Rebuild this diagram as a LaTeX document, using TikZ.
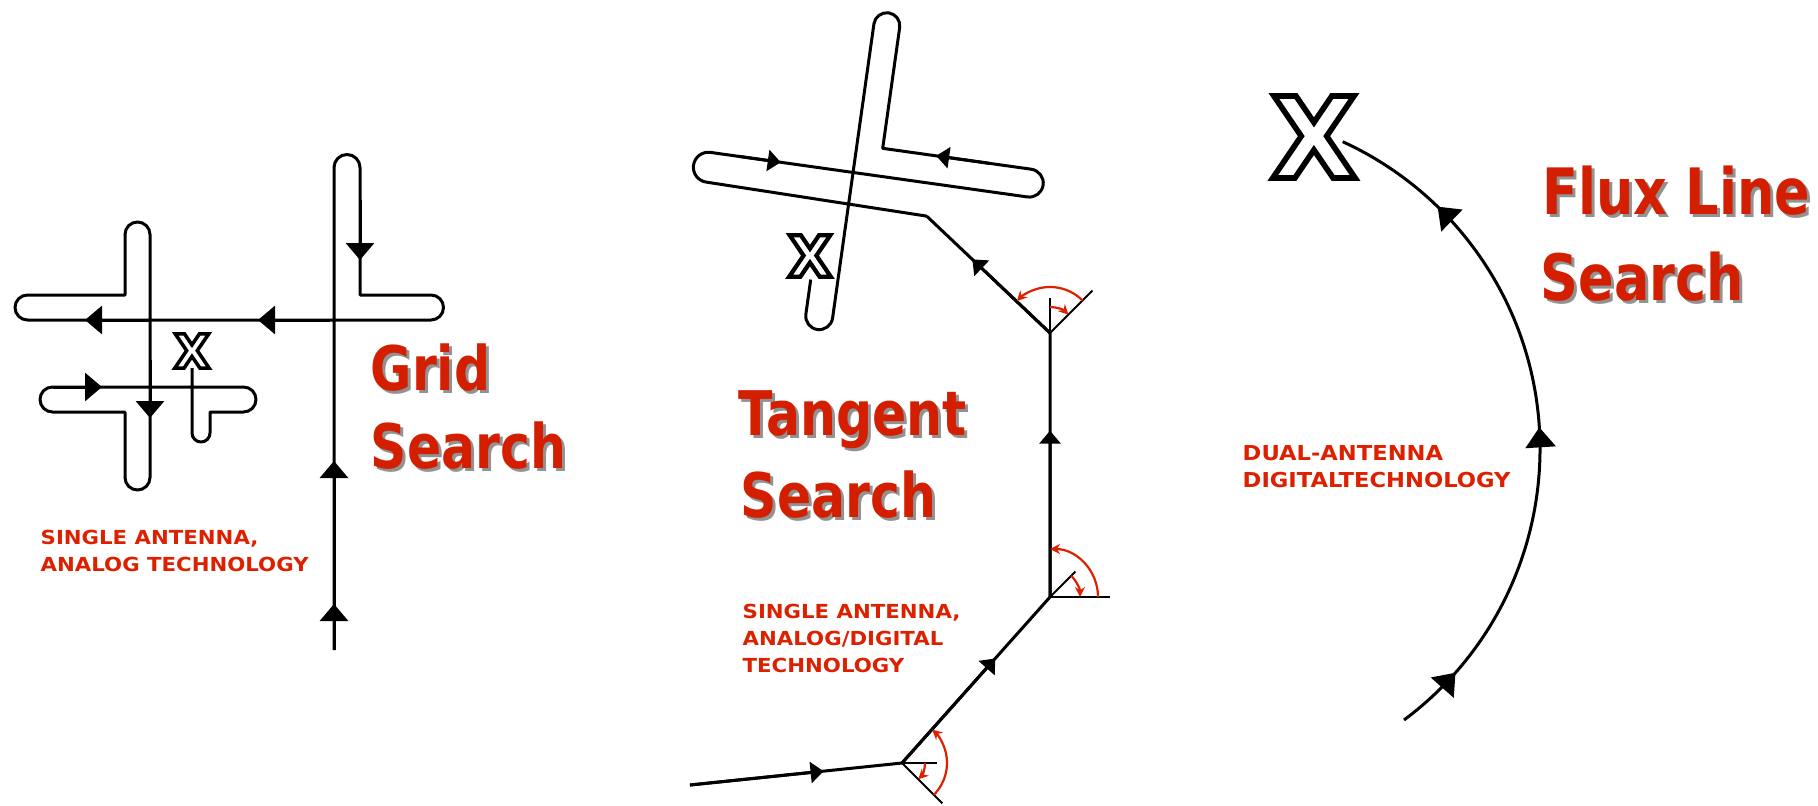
\documentclass[tikz,border=0pt]{standalone}
\usepackage{fontspec}
\usetikzlibrary{arrows.meta,calc,decorations.markings}
\definecolor{titlered}{RGB}{212,30,0}
\definecolor{labelred}{RGB}{220,32,0}
\definecolor{shadegray}{RGB}{110,110,110}
\newfontfamily\titlefont{DejaVu Sans}[FakeStretch=0.82]
\newfontfamily\pixfont{DejaVu Sans}[FakeStretch=1.1]
\newfontfamily\markfont{DejaVu Sans}
% hollow letter: white fill, black outline
\newcommand{\hollow}[2]{\special{pdf:literal direct 2 Tr #1 w 0 G 1 g}#2\special{pdf:literal direct 0 Tr 0 g}}
\newcommand{\shadowed}[1]{\rlap{\kern0.3mm\raisebox{-0.3mm}{\textcolor{shadegray!75}{#1}}}\textcolor{titlered}{#1}}

\begin{document}
\begin{tikzpicture}[x=0.1mm, y=0.1mm,
    trk/.style={line width=0.3mm, line join=round},
    tipg/.style={line width=0.3mm, -{Triangle[length=1.7mm,width=2.8mm]}},
    tipt/.style={line width=0.3mm, -{Triangle[length=1.3mm,width=2.1mm]}},
    refl/.style={line width=0.2mm},
    angarc/.style={labelred, line width=0.22mm, -{Stealth[length=1mm,width=1mm]}},
    title/.style={font=\titlefont\bfseries\fontsize{17.5pt}{21pt}\selectfont, inner sep=0pt, anchor=base west},
    note/.style={font=\pixfont\bfseries\fontsize{5.5pt}{7.7pt}\selectfont, text=labelred, inner sep=0pt, anchor=north west, align=left},
    xmark/.style={inner sep=0pt}]
\useasboundingbox (0,0) rectangle (1818,-805);

% grid search
\draw[trk] (334,-650) -- (334,-167.5) arc[start angle=180, end angle=0, radius=13]
    -- (360,-295) -- (431,-295) arc[start angle=90, end angle=-90, radius=12.5]
    -- (27.5,-320) arc[start angle=270, end angle=90, radius=12.5]
    -- (125,-295) -- (125,-234.5) arc[start angle=180, end angle=0, radius=12.5]
    -- (150,-477.5) arc[start angle=0, end angle=-180, radius=12.5]
    -- (125,-412) -- (52.5,-412) arc[start angle=270, end angle=90, radius=12.5]
    -- (243.5,-387) arc[start angle=90, end angle=-90, radius=12.5]
    -- (210,-412) -- (210,-433) arc[start angle=0, end angle=-180, radius=9]
    -- (192,-368);
\foreach \s/\e in {334/461, 334/604} \draw[tipg] (\s,-650) -- (\s,-\e);
\draw[tipg] (360,-200) -- (360,-260);
\draw[tipg] (330,-320) -- (258,-320);
\draw[tipg] (150,-320) -- (85,-320);
\draw[tipg] (150,-360) -- (150,-418);
\draw[tipg] (52.5,-387) -- (102,-387);
\node[xmark, font=\markfont\bfseries\fontsize{13.4pt}{14pt}\selectfont] (gx) at (192,-351) {\hollow{1.0}{X}};
\node[title] (gt1) at (370,-390) {\shadowed{Grid}};
\node[title] (gt2) at (370,-468) {\shadowed{Search}};
\node[note] (gn) at (40,-529) {SINGLE ANTENNA,\\ANALOG TECHNOLOGY};

% tangent search
\begin{scope}[shift={(857,-173)}, rotate=-8]
\draw[trk] (75,-33) coordinate (tk) -- (-148,-30) arc[start angle=270, end angle=90, radius=15]
    -- (172,0) arc[start angle=-90, end angle=90, radius=14]
    -- (22,28) -- (22,150) arc[start angle=0, end angle=180, radius=13]
    -- (-4,-147) arc[start angle=0, end angle=-180, radius=13.5] -- (-31,-112);
\draw[tipt] (-120,0) -- (-77,0);
\draw[tipt] (130,28) -- (76,28);
\end{scope}
\coordinate (t0) at (690,-785);
\coordinate (ta) at (902,-763);
\coordinate (tb) at (1050,-597);
\coordinate (tc) at (1050,-333);
\draw[trk] (t0) -- (ta) -- (tb) -- (tc) -- (tk);
\foreach \p/\q in {t0/ta, ta/tb, tb/tc, tc/tk}
    \draw[tipt] (\p) -- ($(\p)!0.63!(\q)$);
\foreach \v/\a/\o/\rb/\rs/\ll/\ls in {ta/-45/48/45/23/57/35, tb/0/90/48/30/60/36, tc/45/136/46/26/60/35} {
    \draw[refl] (\v) -- ++(\a:\ll);
    \draw[refl] (\v) -- ++(\a+45:\ls);
    \draw[angarc] ($(\v)+(\a:\rb)$) arc[start angle=\a, end angle=\o, radius=\rb];
    \draw[angarc] ($(\v)+(\a+45:\rs)$) arc[start angle=\a+45, end angle=\a, radius=\rs];
}
\node[xmark, font=\markfont\bfseries\fontsize{16.2pt}{17pt}\selectfont] (tx) at (810,-256) {\hollow{1.2}{X}};
\node[title] (tt1) at (738,-435) {\shadowed{Tangent}};
\node[title] (tt2) at (740,-517) {\shadowed{Search}};
\node[note] (tn) at (742,-603) {SINGLE ANTENNA,\\ANALOG/DIGITAL\\TECHNOLOGY};

% flux line search
\coordinate (fc) at (1202,-449);
\draw[trk, postaction={decorate}, decoration={markings,
    mark=at position 0.10 with {\arrow{Triangle[length=2mm,width=3mm]}},
    mark=at position 0.48 with {\arrow{Triangle[length=2mm,width=3mm]}},
    mark=at position 0.835 with {\arrow{Triangle[length=2mm,width=3mm]}}}]
    ($(fc)+(-53.3:338)$) arc[start angle=-53.3, end angle=65.4, radius=338];
\node[xmark, font=\markfont\bfseries\fontsize{32pt}{33pt}\selectfont] (fx) at (1314,-137) {\hollow{1.6}{X}};
\node[title, font=\titlefont\bfseries\fontsize{18.2pt}{22pt}\selectfont] (ft1) at (1542,-214) {\shadowed{Flux Line}};
\node[title, font=\titlefont\bfseries\fontsize{18.2pt}{22pt}\selectfont] (ft2) at (1540,-300) {\shadowed{Search}};
\node[note, font=\pixfont\bfseries\fontsize{5.85pt}{7.6pt}\selectfont] (fn) at (1242,-445) {DUAL-ANTENNA\\DIGITALTECHNOLOGY};
\end{tikzpicture}
\end{document}
